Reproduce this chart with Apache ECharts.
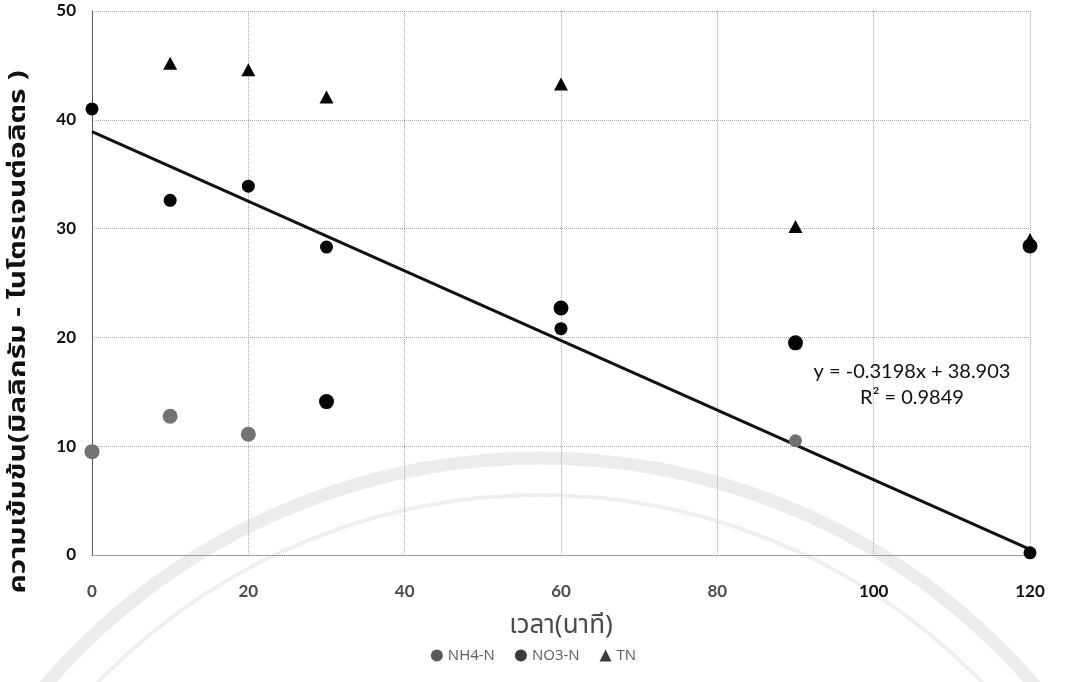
<!DOCTYPE html>
<html>
<head>
<meta charset="utf-8">
<title>ความเข้มข้นของไนโตรเจนตามเวลา</title>
<script src="https://cdn.jsdelivr.net/npm/echarts@6/dist/echarts.min.js"></script>
<style>
  html, body { margin: 0; padding: 0; background: #ffffff; }
  #chart { width: 1067px; height: 682px; }
</style>
</head>
<body>
<div id="chart"></div>
<script>
// Sampling times (minutes)
const timeMin = [0, 10, 20, 30, 60, 90, 120];

// Concentrations (mg-N/L)
const nh4N = [41.0, 32.6, 33.9, 28.3, 20.8, 10.5, 0.2];
const no3N = [9.5, 12.75, 11.1, 14.1, 22.7, 19.5, 28.4];
const tnN  = [null, 45.2, 44.6, 42.1, 43.3, 30.2, 29.0];

// Linear trend of NH4-N as reported on the chart
const trendSlope = -0.3198;
const trendIntercept = 38.903;
const trendR2 = 0.9849;

// Axis ticks
const xTicks = [0, 20, 40, 60, 80, 100, 120];
const yTicks = [0, 10, 20, 30, 40, 50];

const legendNames = ['NH4-N', 'NO3-N', 'TN'];
const xTitle = 'เวลา(นาที)';
const yTitle = 'ความเข้มข้น(มิลลิกรัม - ไนโตรเจนต่อลิตร )';

const pairs = (ys) => timeMin.map((t, i) => [t, ys[i]]).filter(p => p[1] !== null);

// Points printed in a lighter grey tone
const lightNH4 = new Set([5]);
const lightNO3 = new Set([0, 1, 2]);
const DARK = '#050505';
const GREY = '#727272';

const thaiFont = "'Noto Sans Thai', 'Noto Sans', 'DejaVu Sans', sans-serif";
const numFont = "'Lato', 'Open Sans', sans-serif";

const trendX = [xTicks[0], xTicks[xTicks.length - 1]];
const trendData = trendX.map(x => [x, trendSlope * x + trendIntercept]);

const chart = echarts.init(document.getElementById('chart'));

chart.setOption({
  animation: false,
  backgroundColor: '#ffffff',
  grid: { left: 92, right: 37, top: 11, bottom: 127, containLabel: false },
  xAxis: {
    type: 'value',
    min: xTicks[0], max: xTicks[xTicks.length - 1], interval: 20,
    name: xTitle,
    nameLocation: 'middle',
    nameGap: 60,
    nameTextStyle: { fontFamily: thaiFont, fontSize: 26, color: '#4a4a4a' },
    axisLine: { show: true, lineStyle: { color: '#8a8a8a', type: 'dotted', width: 1 } },
    axisTick: { show: false },
    axisLabel: {
      margin: 28,
      fontFamily: numFont, fontWeight: 'bold', fontSize: 17,
      color: (v) => (v >= 100 ? '#111111' : '#4d4d4d')
    },
    splitLine: { show: true, lineStyle: { color: '#a8a8a8', type: 'dotted', width: 1 } }
  },
  yAxis: {
    type: 'value',
    min: yTicks[0], max: yTicks[yTicks.length - 1], interval: 10,
    axisLine: { show: true, lineStyle: { color: '#5a5a5a', width: 1 } },
    axisTick: { show: false },
    axisLabel: {
      margin: 16,
      fontFamily: numFont, fontWeight: 'bold', fontSize: 17,
      color: (v) => (v === 0 ? '#4d4d4d' : '#111111')
    },
    splitLine: { show: true, lineStyle: { color: '#a8a8a8', type: 'dotted', width: 1 } }
  },
  legend: {
    bottom: 14,
    left: 'center',
    itemGap: 20,
    itemWidth: 12,
    itemHeight: 12,
    textStyle: { fontFamily: "'Open Sans', 'Noto Sans', sans-serif", fontSize: 15, color: '#5c5c5c' },
    data: [
      { name: legendNames[0], icon: 'circle', itemStyle: { color: '#5a5a5a', opacity: 1 } },
      { name: legendNames[1], icon: 'circle', itemStyle: { color: '#3c3c3c', opacity: 1 } },
      { name: legendNames[2], icon: 'triangle', itemStyle: { color: '#3c3c3c', opacity: 1 } }
    ]
  },
  graphic: [
    // faint circular emblem behind the plot
    {
      type: 'circle', silent: true, z: -10,
      shape: { cx: 540, cy: 1110, r: 652 },
      style: { fill: 'none', stroke: '#ececec', lineWidth: 13 }
    },
    {
      type: 'circle', silent: true, z: -10,
      shape: { cx: 540, cy: 1110, r: 615 },
      style: { fill: 'none', stroke: '#efefef', lineWidth: 4 }
    },
    // vertical axis title, stretched along its length
    {
      type: 'text', silent: true, z: 10,
      x: 20, y: 332,
      rotation: Math.PI / 2,
      scaleX: 1.3,
      style: {
        text: yTitle,
        textAlign: 'center', textVerticalAlign: 'middle',
        font: "bold 23px 'Noto Sans Thai', 'Noto Sans', sans-serif",
        fill: '#111111'
      }
    },
    {
      type: 'text', silent: true, z: 10,
      style: {
        x: 912, y: 372,
        text: 'y = ' + trendSlope + 'x + ' + trendIntercept,
        textAlign: 'center', textVerticalAlign: 'middle',
        font: "20px 'Lato', 'Open Sans', sans-serif",
        fill: '#111111'
      }
    },
    {
      type: 'text', silent: true, z: 10,
      style: {
        x: 912, y: 398,
        text: 'R² = ' + trendR2,
        textAlign: 'center', textVerticalAlign: 'middle',
        font: "20px 'Lato', 'Open Sans', sans-serif",
        fill: '#111111'
      }
    }
  ],
  series: [
    {
      name: 'trend',
      type: 'line',
      data: trendData,
      symbol: 'none',
      silent: true,
      lineStyle: { color: '#111111', width: 3 },
      z: 1
    },
    {
      name: legendNames[0],
      type: 'scatter',
      data: pairs(nh4N),
      symbol: 'circle',
      symbolSize: 13,
      itemStyle: { opacity: 1, color: (p) => (lightNH4.has(p.dataIndex) ? GREY : DARK) },
      z: 3
    },
    {
      name: legendNames[1],
      type: 'scatter',
      data: pairs(no3N),
      symbol: 'circle',
      symbolSize: 15,
      itemStyle: { opacity: 1, color: (p) => (lightNO3.has(p.dataIndex) ? GREY : DARK) },
      z: 2
    },
    {
      name: legendNames[2],
      type: 'scatter',
      data: pairs(tnN),
      symbol: 'triangle',
      symbolSize: [14, 13],
      itemStyle: { opacity: 1, color: DARK },
      z: 4
    }
  ]
});
</script>
</body>
</html>
